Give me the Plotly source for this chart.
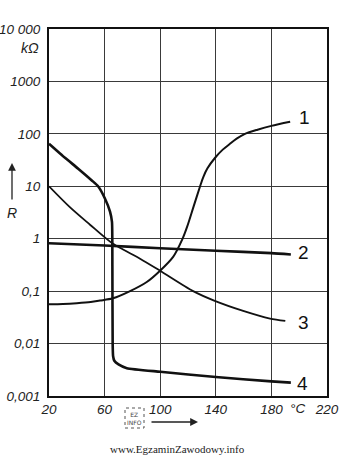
import plotly.graph_objects as go

# ---- data ----
c1_T = [20, 30, 40, 50, 56.7, 66, 78.3, 90.6, 99.9, 109.3, 115.8, 119.4, 124, 128.7, 131, 134, 139.5, 145, 150, 155, 161, 170, 180, 193.5]
c1_R = [0.056, 0.057, 0.059, 0.062, 0.066, 0.073, 0.1, 0.151, 0.245, 0.45, 0.96, 1.7, 4.1, 10, 15, 22, 35, 50, 64, 81, 100, 120, 142, 170]

c2_T = [20, 60, 100, 140, 180, 194]
c2_R = [0.82, 0.74, 0.66, 0.59, 0.53, 0.5]

c3_T = [20, 35, 49.5, 63.9, 71, 85.5, 99.9, 123.7, 138.8, 159.7, 179, 190]
c3_R = [10, 4.0, 1.85, 0.88, 0.67, 0.415, 0.245, 0.1, 0.066, 0.042, 0.030, 0.027]

c4_T = [20, 31.5, 41, 51, 55.3, 60.3, 63.9, 65.3, 65.6, 65.8, 66.1, 67, 70, 76, 100, 140, 180, 194]
c4_R = [65, 35, 21.7, 12.8, 10, 5.8, 3.3, 2.1, 0.3, 0.01, 0.0058, 0.0047, 0.0040, 0.0034, 0.0029, 0.0023, 0.0019, 0.0018]

y_tickvals = [0.001, 0.01, 0.1, 1, 10, 100, 1000, 10000]
y_ticktext = ["0,001", "0,01", "0,1", "1", "10", "100", "1000", "10 000"]
x_tickvals = [20, 60, 100, 140, 180, 220]
x_ticktext = ["20", "60", "100", "140", "180", "220"]

curves = [(c1_T, c1_R, 2.0, 0.8), (c2_T, c2_R, 2.6, 0.5), (c3_T, c3_R, 1.8, 0.8), (c4_T, c4_R, 2.6, 0.5)]
curve_labels = ["1", "2", "3", "4"]

fig = go.Figure()
for T, R, w, sm in curves:
    fig.add_trace(go.Scatter(x=T, y=R, mode="lines",
                             line=dict(color="#111111", width=w, shape="spline", smoothing=sm),
                             showlegend=False, hoverinfo="skip"))

# layout geometry (pixels)
W, H = 352, 456
L, Rm, Tm, B = 49, 25, 29, 60
pw, ph = W - L - Rm, H - Tm - B

def px(x):
    return (x - L) / pw

def py(y):
    return (H - B - y) / ph

tick_font = dict(family="Liberation Sans", size=13.5, color="#222222", style="italic")

fig.update_layout(
    width=W, height=H,
    margin=dict(l=L, r=Rm, t=Tm, b=B),
    paper_bgcolor="white", plot_bgcolor="white",
    xaxis=dict(range=[20, 220], tickvals=x_tickvals, ticktext=x_ticktext,
               showgrid=True, gridcolor="#3a3a3a", gridwidth=1.2,
               showline=True, mirror=True, linecolor="#111111", linewidth=2,
               ticks="", tickfont=tick_font, zeroline=False, automargin=False),
    yaxis=dict(type="log", range=[-3, 4], tickvals=y_tickvals, ticktext=y_ticktext,
               showgrid=True, gridcolor="#3a3a3a", gridwidth=1.2,
               showline=True, mirror=True, linecolor="#111111", linewidth=2,
               ticks="", tickfont=tick_font, ticklabelstandoff=4, automargin=False),
)

ann = []

def text_at(text, x, y, font):
    ann.append(dict(text=text, x=px(x), y=py(y), xref="paper", yref="paper",
                    xanchor="center", yanchor="middle", showarrow=False, font=font))

# curve labels
for lab, (x, y) in zip(curve_labels, [(304, 117), (303, 252), (303, 322), (302, 383)]):
    text_at(lab, x, y, dict(family="Liberation Sans", size=19, color="#111111"))
text_at("kΩ", 30, 48, dict(family="Liberation Sans", size=14, color="#222222", style="italic"))
text_at("°C", 297, 408, tick_font)
text_at("R", 12, 213, dict(family="Liberation Sans", size=14, color="#222222", style="italic"))
ann.append(dict(text="", x=px(12), y=py(163), xref="paper", yref="paper", showarrow=True,
                ax=0, ay=38, arrowhead=2, arrowsize=1.2, arrowwidth=1.3, arrowcolor="#222222"))
ann.append(dict(text="", x=px(198), y=py(422), xref="paper", yref="paper", showarrow=True,
                ax=-48, ay=0, arrowhead=2, arrowsize=1.2, arrowwidth=1.3, arrowcolor="#222222"))
text_at("EZ<br>INFO", 134, 418, dict(family="DejaVu Sans", size=6, color="#444444"))
text_at("www.EgzaminZawodowy.info", 177, 449, dict(family="Liberation Serif", size=11, color="#222222"))
fig.update_layout(annotations=ann)

fig.add_shape(type="rect", xref="paper", yref="paper",
              x0=px(125), x1=px(144), y0=py(428), y1=py(408),
              line=dict(color="#555555", width=1, dash="dot"))

fig.write_html("out.html")
